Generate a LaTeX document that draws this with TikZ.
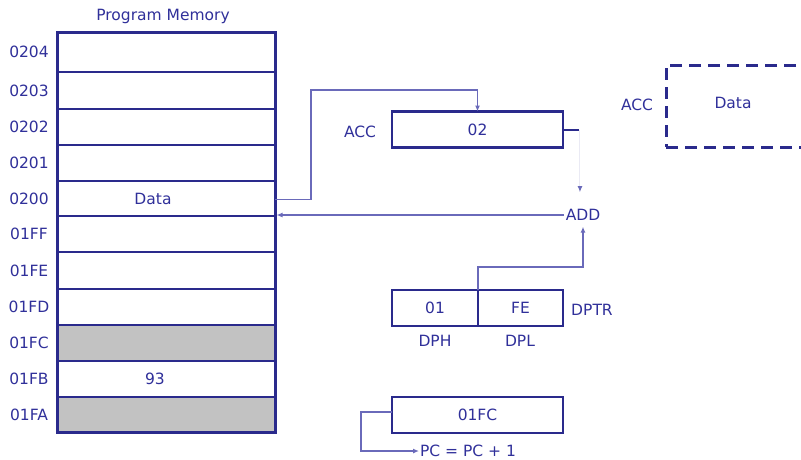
\documentclass[tikz,border=0pt]{standalone}
\usepackage{fontspec}
\setmainfont{DejaVu Sans}
\usetikzlibrary{arrows.meta}
\definecolor{navy}{HTML}{2A2A8C}
\definecolor{lnk}{HTML}{6A6ABA}
\definecolor{txt}{HTML}{30309A}
\definecolor{cellgray}{HTML}{C2C2C2}
\definecolor{faint}{HTML}{EAEAF4}
\begin{document}
\begin{tikzpicture}[x=1pt,y=-1pt,
  font=\fontsize{15.5}{17}\selectfont,
  every node/.style={text=txt, inner sep=0pt, outer sep=0pt},
  cell/.style={draw=navy, line width=2.4pt, minimum width=218pt},
  reg/.style={draw=navy, line width=2.6pt, minimum height=36pt},
  link/.style={draw=lnk, line width=1.4pt},
  tip/.style={-{Latex[length=6pt,width=5pt]}}]
\clip (0,0) rectangle (801,459);
\fill[white] (0,0) rectangle (801,459);
% title
\node (title) at (163,16) {Program Memory};
% memory cells
\foreach \lab/\t/\b [count=\i from 0] in {0204/32/72,0203/72/109,0202/109/145,0201/145/181,0200/181/216,01FF/216/252,01FE/252/289,01FD/289/325,01FC/325/361,01FB/361/397,01FA/397/432}{
  \node[cell, minimum height={(\b-\t)*1pt}] (c\i) at (166,{(\t+\b)/2}) {};
  \node (l\i) at (29,{(\t+\b)/2}) {\lab};
}
\fill[cellgray] (c8.north west) rectangle (c8.south east);
\fill[cellgray] (c10.north west) rectangle (c10.south east);
\foreach \i in {8,10}{\draw[navy, line width=2.4pt] (c\i.north west) rectangle (c\i.south east);}
\draw[navy, line width=3pt] (c0.north west) rectangle (c10.south east);
\node (data) at (153,198.5) {Data};
\node (n93) at (155,379) {93};
% ACC
\node[reg, minimum width=171pt] (acc) at (477.5,129.5) {02};
\node (acclab) at (360,132) {ACC};
\draw[link,tip] (c4.east |- 0,199.5) -- (311,199.5) -- (311,90) -- (acc.north |- 0,90) -- (acc.north);
\draw[navy, line width=2pt] (acc.east) -- ++(16,0) coordinate (stub);
\node (add) at (583,215) {ADD};
\coordinate (addin) at (580,192);
\draw[faint, line width=1pt] (stub) -- (stub |- addin);
\draw[lnk, line width=1pt, tip] ([yshift=5pt]addin) -- (addin);
\draw[link,tip] ([xshift=-2pt]add.west) -- ([xshift=1.5pt]c4.east |- add.west);
% DPTR
\node[reg, minimum width=86pt] (dph) at (435,308) {01};
\node[reg, minimum width=85pt] (dpl) at (520.5,308) {FE};
\node (dptr) at (592,310) {DPTR};
\node (dphl) at (435,341) {DPH};
\node (dpll) at (520,341) {DPL};
\draw[link,tip] (dpl.north west) -- ++(0,-23) -| ([yshift=-6pt]add.south);
% PC
\node[reg, minimum width=171pt] (pc) at (477.5,415) {01FC};
\node[anchor=west] (pcinc) at (420,451) {PC = PC + 1};
\draw[link,tip] ([yshift=3pt]pc.west) -- ++(-31,0) |- ([xshift=-1pt]pcinc.west);
% dashed ACC
\node[draw=navy, line width=3pt, dash pattern=on 12pt off 7pt, minimum width=138pt, minimum height=82pt] (dacc) at (735,106) {};
\node (ddata) at (733,103) {Data};
\node (dacclab) at (637,105) {ACC};
\end{tikzpicture}
\end{document}
